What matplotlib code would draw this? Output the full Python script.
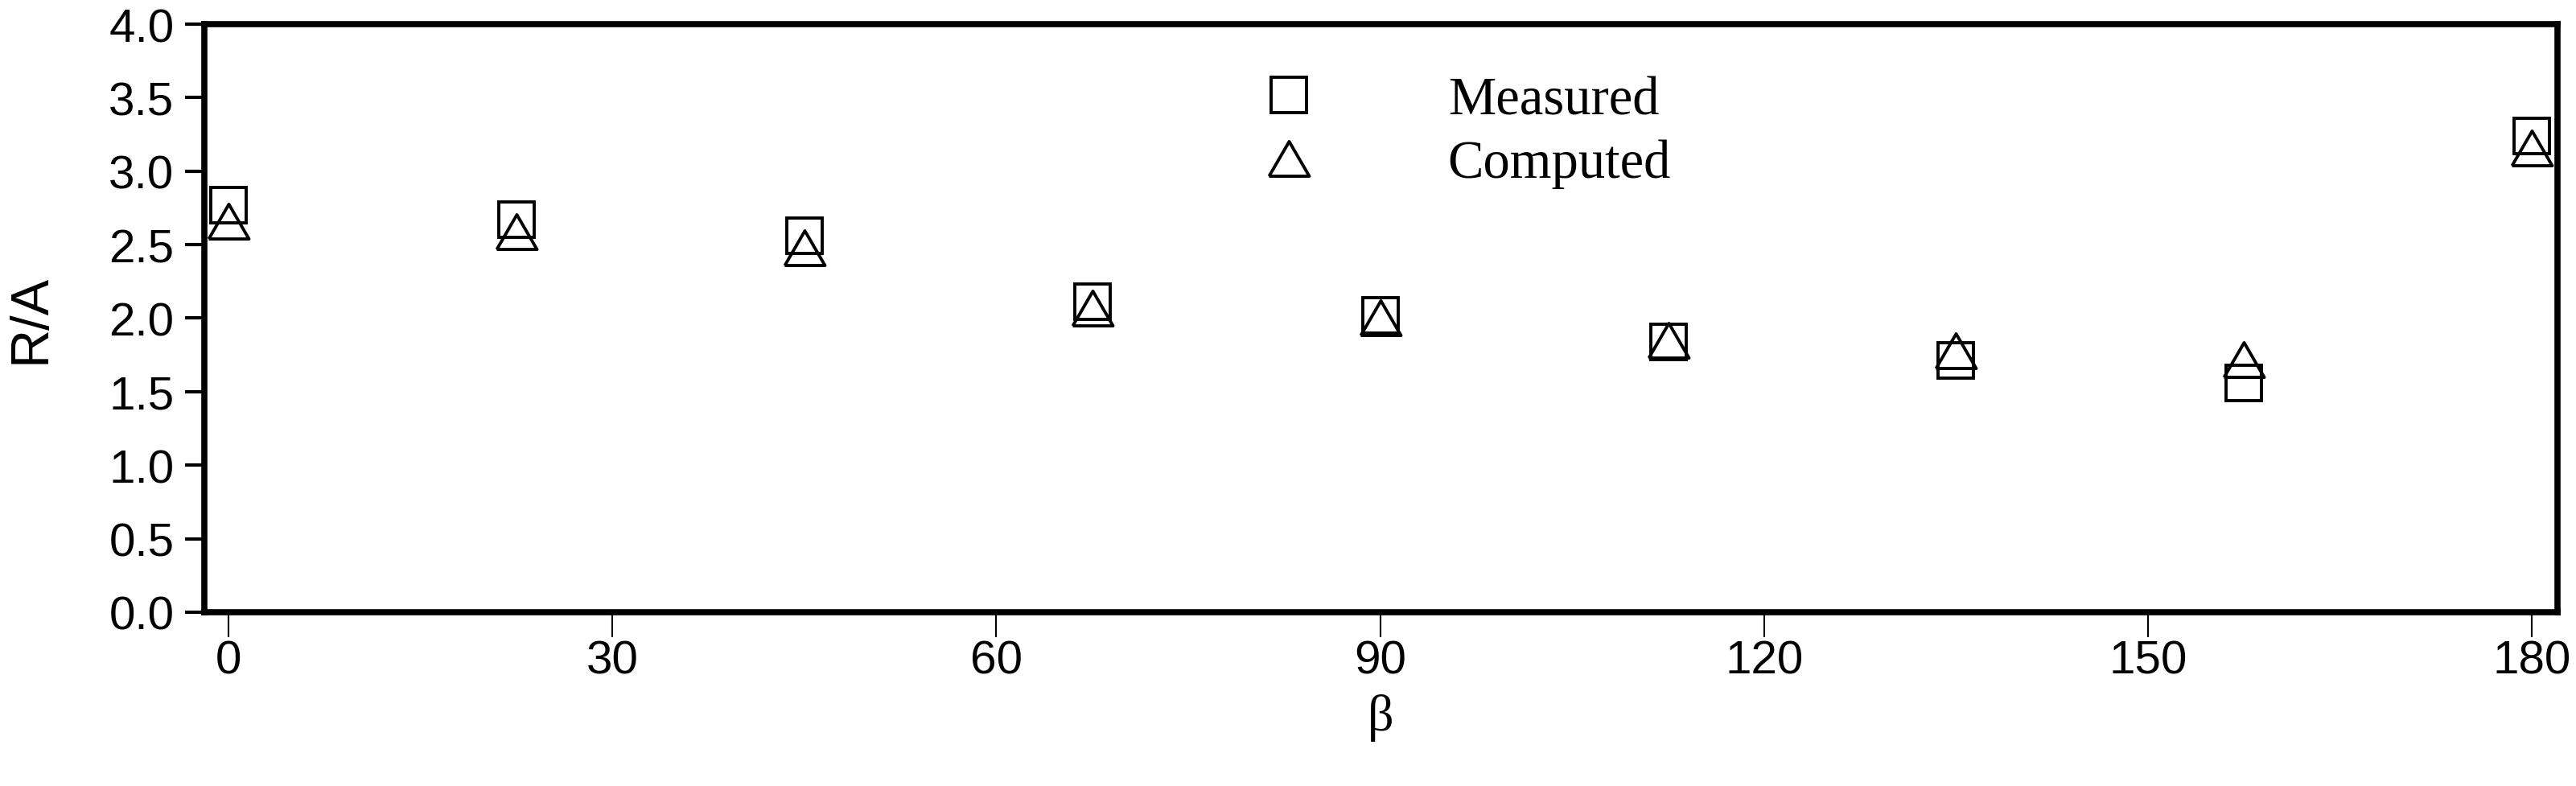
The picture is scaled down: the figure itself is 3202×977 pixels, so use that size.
import matplotlib as mpl, matplotlib.pyplot as plt

mpl.rcParams.update({"font.family": "sans-serif", "font.sans-serif": ["Liberation Sans"],
                     "axes.linewidth": 5.5})

beta = [0, 22.5, 45, 67.5, 90, 112.5, 135, 157.5, 180]
measured = [2.77, 2.67, 2.56, 2.11, 2.02, 1.84, 1.71, 1.56, 3.24]
computed = [2.66, 2.59, 2.48, 2.07, 2.00, 1.85, 1.78, 1.72, 3.16]
series_labels = ["Measured", "Computed"]

# slightly wide open triangle, like the original
tri = [(-1.16, -1), (1.16, -1), (0, 1), (-1.16, -1)]

fig = plt.figure(figsize=(32.02, 9.78), dpi=100)
ax = fig.add_axes([0.0793, 0.2209, 0.9135, 0.7474])

ax.plot(beta, measured, ls="none", marker="s", ms=31, mfc="none", mec="black", mew=2.8, label=series_labels[0])
ax.plot(beta, computed, ls="none", marker=tri, ms=36, mfc="none", mec="black", mew=2.8, label=series_labels[1])

ax.set_xlim(-1.9, 182)
ax.set_ylim(0, 4.0)
ax.set_xticks([0, 30, 60, 90, 120, 150, 180])
ax.set_yticks([0, 0.5, 1.0, 1.5, 2.0, 2.5, 3.0, 3.5, 4.0])
ax.set_yticklabels([f"{v:.1f}" for v in ax.get_yticks()])
ax.tick_params(axis="y", direction="out", length=17, width=3, labelsize=42, pad=10)
ax.tick_params(axis="x", direction="out", length=22, width=1.5, labelsize=42, pad=2)

ax.set_ylabel("R/A", fontsize=48, labelpad=47)
ax.set_xlabel("β", fontsize=46, family="Liberation Serif", labelpad=10)

leg = ax.legend(loc="upper left", bbox_to_anchor=(0.4496, 0.912), frameon=False,
                prop={"family": "Liberation Serif", "size": 48},
                handlelength=1.0, handletextpad=2.46, labelspacing=0.26,
                borderaxespad=0, borderpad=0)

fig.savefig("out.png", dpi=100)
